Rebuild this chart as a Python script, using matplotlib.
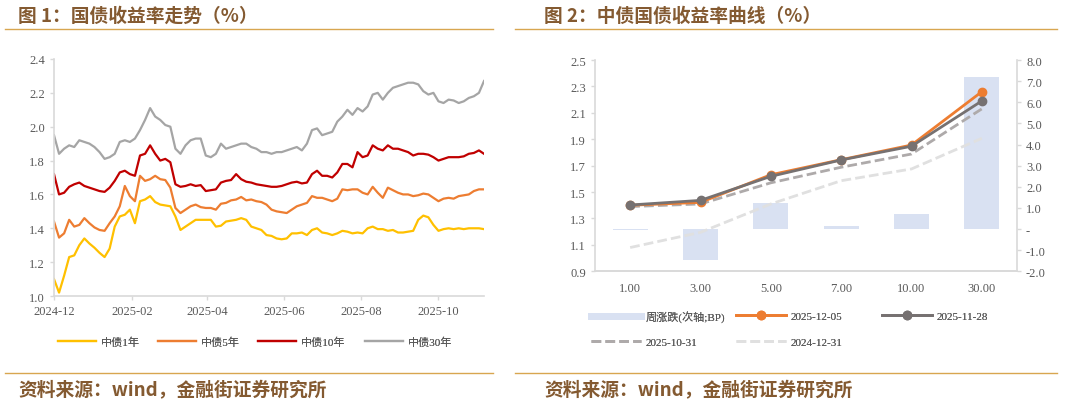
import numpy as np
import pandas as pd
import matplotlib
matplotlib.use("Agg")
import matplotlib.pyplot as plt
import matplotlib.dates as mdates
from matplotlib.lines import Line2D
from matplotlib.ticker import FuncFormatter, MultipleLocator

plt.rcParams['font.family'] = ['Liberation Serif', 'Noto Sans CJK SC', 'DejaVu Sans']

# ---- 数据：图1 国债收益率走势（每4天取一个点，读图估计） ----
datas = pd.date_range('2024-12-01', periods=86, freq='4D')

cz1 = [1.10, 1.02, 1.12, 1.23, 1.24, 1.30, 1.34, 1.31, 1.285, 1.255,
       1.23, 1.28, 1.41, 1.47, 1.48, 1.51, 1.43, 1.56, 1.57, 1.59,
       1.555, 1.54, 1.535, 1.53, 1.47, 1.39, 1.41, 1.43, 1.45, 1.45,
       1.45, 1.45, 1.41, 1.415, 1.44, 1.445, 1.45, 1.46, 1.45, 1.41,
       1.40, 1.39, 1.36, 1.355, 1.34, 1.335, 1.34, 1.37, 1.37, 1.375,
       1.36, 1.39, 1.40, 1.375, 1.37, 1.36, 1.37, 1.385, 1.38, 1.37,
       1.375, 1.37, 1.40, 1.41, 1.395, 1.395, 1.385, 1.39, 1.375, 1.375,
       1.38, 1.385, 1.45, 1.475, 1.465, 1.42, 1.385, 1.395, 1.40, 1.395,
       1.40, 1.395, 1.40, 1.40, 1.40, 1.395]

cz5 = [1.44, 1.345, 1.37, 1.45, 1.41, 1.42, 1.46, 1.43, 1.405, 1.39,
       1.385, 1.43, 1.47, 1.53, 1.65, 1.59, 1.56, 1.71, 1.68, 1.69,
       1.71, 1.69, 1.685, 1.64, 1.52, 1.49, 1.51, 1.53, 1.54, 1.525,
       1.52, 1.52, 1.51, 1.545, 1.55, 1.565, 1.57, 1.585, 1.565, 1.57,
       1.56, 1.555, 1.54, 1.51, 1.50, 1.495, 1.49, 1.51, 1.53, 1.54,
       1.55, 1.59, 1.58, 1.58, 1.57, 1.56, 1.575, 1.63, 1.625, 1.63,
       1.63, 1.61, 1.60, 1.645, 1.61, 1.58, 1.64, 1.625, 1.61, 1.60,
       1.60, 1.59, 1.595, 1.605, 1.60, 1.58, 1.56, 1.575, 1.58, 1.575,
       1.59, 1.595, 1.60, 1.62, 1.63, 1.63]

cz10 = [1.72, 1.60, 1.61, 1.645, 1.66, 1.67, 1.65, 1.64, 1.63, 1.62,
        1.615, 1.64, 1.68, 1.73, 1.74, 1.72, 1.71, 1.83, 1.84, 1.89,
        1.84, 1.80, 1.81, 1.79, 1.66, 1.645, 1.65, 1.66, 1.65, 1.655,
        1.62, 1.625, 1.63, 1.67, 1.68, 1.685, 1.72, 1.69, 1.675, 1.67,
        1.66, 1.655, 1.65, 1.645, 1.645, 1.65, 1.66, 1.67, 1.675, 1.665,
        1.67, 1.72, 1.74, 1.71, 1.71, 1.70, 1.73, 1.78, 1.78, 1.76,
        1.85, 1.82, 1.83, 1.89, 1.87, 1.86, 1.89, 1.87, 1.87, 1.86,
        1.85, 1.83, 1.84, 1.84, 1.835, 1.82, 1.80, 1.81, 1.82, 1.82,
        1.82, 1.825, 1.84, 1.845, 1.86, 1.84]

cz30 = [1.95, 1.84, 1.87, 1.89, 1.88, 1.92, 1.91, 1.90, 1.88, 1.85,
        1.81, 1.82, 1.84, 1.91, 1.92, 1.91, 1.93, 1.98, 2.04, 2.11,
        2.06, 2.04, 2.01, 2.00, 1.87, 1.84, 1.89, 1.92, 1.93, 1.93,
        1.83, 1.82, 1.84, 1.90, 1.87, 1.88, 1.89, 1.90, 1.90, 1.88,
        1.87, 1.85, 1.85, 1.84, 1.85, 1.85, 1.86, 1.87, 1.88, 1.86,
        1.90, 1.98, 1.99, 1.95, 1.96, 1.97, 2.03, 2.06, 2.10, 2.07,
        2.11, 2.09, 2.12, 2.19, 2.20, 2.16, 2.20, 2.23, 2.24, 2.25,
        2.26, 2.26, 2.25, 2.21, 2.19, 2.20, 2.15, 2.14, 2.16, 2.155,
        2.14, 2.15, 2.17, 2.18, 2.20, 2.27]

nomes_series = ['中债1年', '中债5年', '中债10年', '中债30年']
cores_series = ['#FFC000', '#ED7D31', '#C00000', '#A5A5A5']

# ---- 数据：图2 中债国债收益率曲线 ----
prazos = ['1.00', '3.00', '5.00', '7.00', '10.00', '30.00']
y_20251205 = [1.400, 1.422, 1.631, 1.745, 1.856, 2.260]
y_20251128 = [1.402, 1.437, 1.619, 1.743, 1.847, 2.190]
y_20251031 = [1.390, 1.410, 1.570, 1.688, 1.788, 2.130]
y_20241231 = [1.080, 1.195, 1.410, 1.586, 1.675, 1.907]
variacao_bp = [-0.05, -1.45, 1.25, 0.16, 0.70, 7.18]

W, H = 1075, 406
fig = plt.figure(figsize=(W / 100, H / 100), dpi=100)
cor_titulo = '#845A31'
cor_linha = '#D8A650'
cor_eixo = '#D9D9D9'
cor_texto = '#595959'

def fx(px):
    return px / W

def fy(py):
    return 1 - py / H

#cabeçalhos e rodapés
fig.text(fx(18), fy(16), '图 1：国债收益率走势（%）', family='Noto Sans CJK SC',
         fontweight='bold', fontsize=13.5, color=cor_titulo, va='center')
fig.text(fx(544), fy(16), '图 2：中债国债收益率曲线（%）', family='Noto Sans CJK SC',
         fontweight='bold', fontsize=13.5, color=cor_titulo, va='center')
for yy in (30, 374):
    fig.add_artist(Line2D([fx(5), fx(493)], [fy(yy), fy(yy)], color=cor_linha, lw=1))
    fig.add_artist(Line2D([fx(515), fx(1057)], [fy(yy), fy(yy)], color=cor_linha, lw=1))
for x0 in (18, 544):
    fig.text(fx(x0), fy(391), '资料来源：wind，金融街证券研究所', family='Noto Sans CJK SC',
             fontweight='bold', fontsize=13.5, color=cor_titulo, va='center')

#gráfico 1
ax1 = fig.add_axes([fx(54), fy(297), fx(430), 237 / H])
linhas = []
for vals, nome, cor in zip([cz1, cz5, cz10, cz30], nomes_series, cores_series):
    l, = ax1.plot(datas, vals, color=cor, lw=1.6, label=nome)
    linhas.append(l)
ax1.set_ylim(1.0, 2.4)
ax1.yaxis.set_major_locator(MultipleLocator(0.2))
ax1.yaxis.set_major_formatter(FuncFormatter(lambda v, p: f'{v:.1f}'))
ax1.set_xlim(datas[0], datas[-1])
ax1.set_xticks(pd.to_datetime(['2024-12-01', '2025-02-01', '2025-04-01',
                               '2025-06-01', '2025-08-01', '2025-10-01']))
ax1.xaxis.set_major_formatter(mdates.DateFormatter('%Y-%m'))
for s in ('top', 'right'):
    ax1.spines[s].set_visible(False)
for s in ('left', 'bottom'):
    ax1.spines[s].set_color(cor_eixo)
    ax1.spines[s].set_linewidth(1.2)
ax1.tick_params(colors=cor_eixo, labelcolor=cor_texto, labelsize=9, length=3, width=1)

leg_prop = dict(family=['Liberation Serif', 'Noto Sans CJK SC'], size=8)

def legenda(handle, texto, xp, yp, hl):
    lg = fig.legend([handle], [texto], loc='center left', bbox_to_anchor=(fx(xp), fy(yp)),
                    frameon=False, handlelength=hl, handletextpad=0.45, borderpad=0,
                    borderaxespad=0, prop=leg_prop, labelcolor=cor_texto)
    fig.add_artist(lg)

for l, nome, xp in zip(linhas, nomes_series, [58, 158, 258, 365]):
    legenda(l, nome, xp, 343, 3.4)

#gráfico 2
ax = fig.add_axes([fx(595), fy(272.3), fx(422), 211.3 / H])
ax2 = ax.twinx()
xs = np.arange(len(prazos))
ax2.bar(xs, variacao_bp, width=0.5, color='#D9E1F2', zorder=1)
ax2.set_ylim(-2, 8)
ax2.yaxis.set_major_locator(MultipleLocator(1))
ax2.yaxis.set_major_formatter(FuncFormatter(lambda v, p: '-' if abs(v) < 1e-9 else f'{v:.1f}'))

ax.plot(xs, y_20241231, color='#E0E0E0', lw=2, dashes=(3.5, 1.5))
ax.plot(xs, y_20251031, color='#AEAAAA', lw=2, dashes=(3.5, 1.5))
l_1205, = ax.plot(xs, y_20251205, color='#ED7D31', lw=2, marker='o', ms=6)
l_1128, = ax.plot(xs, y_20251128, color='#767171', lw=2, marker='o', ms=6)
ax.set_zorder(ax2.get_zorder() + 1)
ax.patch.set_visible(False)
ax.set_ylim(0.9, 2.5)
ax.set_yticks(np.arange(0.9, 2.51, 0.2))
ax.yaxis.set_major_formatter(FuncFormatter(lambda v, p: f'{v:.1f}'))
ax.set_xlim(-0.5, len(prazos) - 0.5)
ax.set_xticks(xs)
ax.set_xticklabels(prazos)

for a in (ax, ax2):
    a.spines['top'].set_visible(False)
    for s in ('left', 'right', 'bottom'):
        a.spines[s].set_color(cor_eixo)
        a.spines[s].set_linewidth(1.2)
    a.tick_params(colors=cor_eixo, labelcolor=cor_texto, labelsize=9, length=3, width=1)
ax.tick_params(axis='x', length=0, pad=8)
ax2.spines['left'].set_visible(False)
ax.spines['right'].set_visible(False)

h_bar = Line2D([], [], color='#D9E1F2', lw=5)
h_1031 = Line2D([], [], color='#AEAAAA', lw=2, dashes=(3.5, 1.5))
h_1231 = Line2D([], [], color='#E0E0E0', lw=2, dashes=(3.5, 1.5))
legenda(h_bar, '周涨跌(次轴;BP)', 591, 317, 4.5)
legenda(l_1205, '2025-12-05', 736, 317, 4.5)
legenda(l_1128, '2025-11-28', 882, 317, 4.5)
legenda(h_1031, '2025-10-31', 591, 343, 4.5)
legenda(h_1231, '2024-12-31', 736, 343, 4.5)

fig.savefig('out.png', dpi=100)
